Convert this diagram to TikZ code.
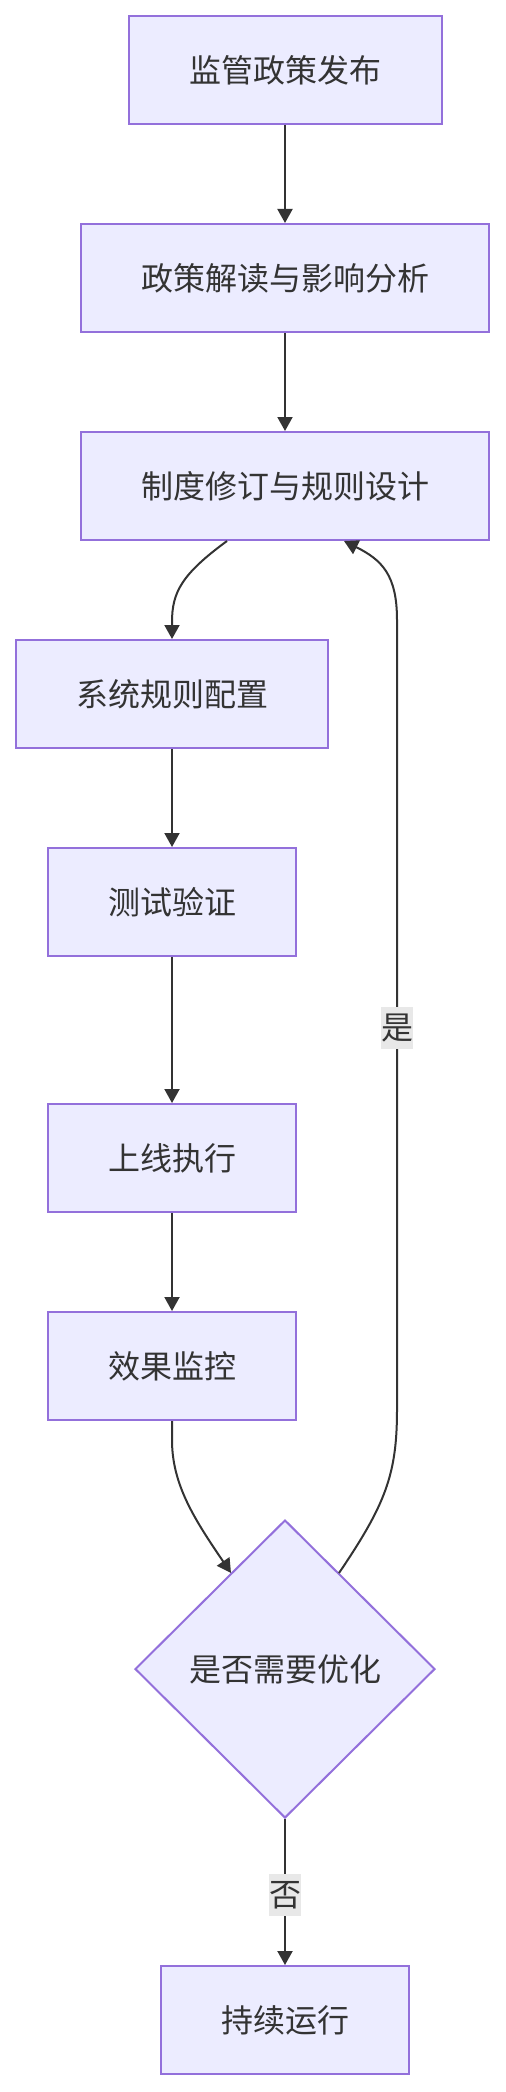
\documentclass[tikz,border=0pt]{standalone}
\usepackage{fontspec}
\setmainfont{Noto Sans CJK SC}
\usetikzlibrary{shapes.geometric,arrows.meta,calc}
\definecolor{nodefill}{HTML}{ECECFF}
\definecolor{nodeline}{HTML}{9370DB}
\definecolor{edgecol}{HTML}{333333}
\definecolor{labelbg}{HTML}{E8E8E8}
\begin{document}
\begin{tikzpicture}[x=0.5pt,y=-0.5pt,
  txt/.style={text=edgecol,font=\fontsize{16pt}{19pt}\selectfont},
  box/.style={txt,draw=nodeline,fill=nodefill,line width=1pt,minimum height=54pt,inner sep=0pt},
  dia/.style={txt,diamond,draw=nodeline,fill=nodefill,line width=1pt,minimum width=150pt,minimum height=149pt,inner sep=0pt},
  edge/.style={draw=edgecol,line width=1pt,-{Triangle[length=7pt,width=7.5pt]}},
  elabel/.style={txt,fill=labelbg,inner sep=0pt,minimum width=16pt,minimum height=21pt}]
\useasboundingbox (0,0) rectangle (505,2092);
\node[box,minimum width=156.5pt] (b1) at (285,70) {监管政策发布};
\node[box,minimum width=204pt] (b2) at (285,278) {政策解读与影响分析};
\node[box,minimum width=204pt] (b3) at (285,486) {制度修订与规则设计};
\node[box,minimum width=156pt] (b4) at (172,694) {系统规则配置};
\node[box,minimum width=124pt] (b5) at (172,902) {测试验证};
\node[box,minimum width=124pt] (b6) at (172,1158) {上线执行};
\node[box,minimum width=124pt] (b7) at (172,1366) {效果监控};
\node[dia] (d) at (285,1669) {是否需要优化};
\node[box,minimum width=124pt] (b8) at (285,2020) {持续运行};
\coordinate (s34) at ($(b3.south)+(-58,0)$);
\coordinate (e7d) at (231,1573);
\coordinate (sd3) at (339,1573);
\coordinate (e3) at ($(b3.south)+(59,0)$);
\draw[edge] (b1) -- (b2);
\draw[edge] (b2) -- (b3);
\draw[edge] (s34) .. controls (182,574) and (172,592) .. (172,622) -- (b4.north);
\draw[edge] (b4) -- (b5);
\draw[edge] (b5) -- (b6);
\draw[edge] (b6) -- (b7);
\draw[edge] (b7.south) -- (172,1440) .. controls (172,1485) and (195,1520) .. (e7d);
\draw[edge] (sd3) .. controls (385,1505) and (397,1475) .. (397,1410) -- (397,620) .. controls (397,575) and (382,560) .. (e3);
\draw[edge] (d.south) -- (b8.north);
\node[elabel] (lyes) at (397,1028) {是};
\node[elabel] (lno) at (285,1895) {否};
\end{tikzpicture}
\end{document}
